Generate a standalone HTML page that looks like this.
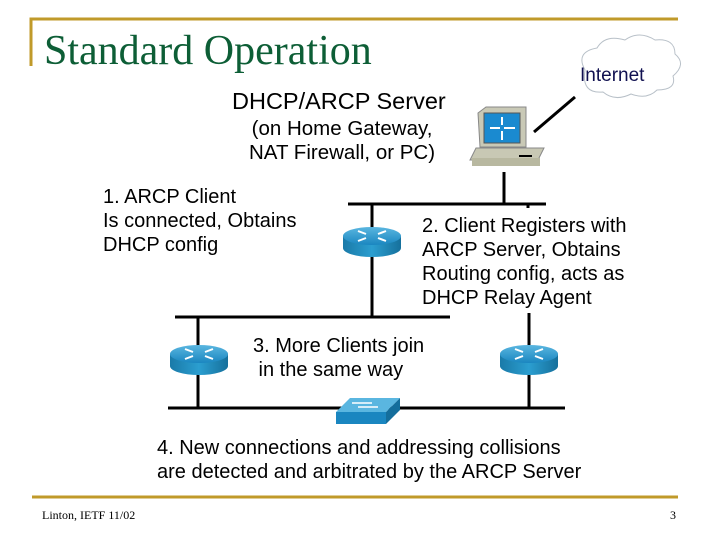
<!DOCTYPE html>
<html><head><style>
body{margin:0;width:720px;height:540px;background:#fff;overflow:hidden;position:relative;font-family:"Liberation Sans",sans-serif}
.t{position:absolute;white-space:nowrap;color:#000}
</style></head><body>
<svg width="720" height="540" style="position:absolute;left:0;top:0">
<defs>
<linearGradient id="rt" x1="0" y1="0" x2="0" y2="1"><stop offset="0" stop-color="#5ab6e0"/><stop offset="1" stop-color="#1a86c0"/></linearGradient>
<linearGradient id="rs" x1="0" y1="0" x2="1" y2="0"><stop offset="0" stop-color="#1a7aa8"/><stop offset="0.5" stop-color="#2b9ed0"/><stop offset="1" stop-color="#16709c"/></linearGradient>
<g id="router">
<path d="M-29,0 v12 a29,9 0 0 0 58,0 v-12 z" fill="url(#rs)"/>
<ellipse cx="0" cy="0" rx="29" ry="9" fill="url(#rt)"/>
<g stroke="#fff" stroke-width="2" fill="none"><path d="M-14,-5 l8,3 M14,-5 l-8,3 M-14,5 l8,-3 M14,5 l-8,-3"/></g>
</g>
</defs>
<g fill="none" stroke="#c09a2a" stroke-width="3">
<path d="M31,66 V19 H678"/>
<path d="M32,497 H678"/>
</g>
<path d="M585,70 q-10,-18 12,-22 q8,-14 28,-8 q14,-10 30,0 q20,-2 20,14 q12,10 -2,22 q4,14 -16,14 q-10,10 -26,4 q-16,8 -28,-2 q-22,2 -18,-22 z" fill="#fff" stroke="#b8c0c8" stroke-width="1"/>
<g stroke="#000" stroke-width="3" fill="none">
<line x1="575" y1="97" x2="534" y2="132"/>
<line x1="504" y1="172" x2="504" y2="204"/>
<line x1="348" y1="204" x2="546" y2="204"/>
<line x1="528" y1="204" x2="528" y2="208"/>
<line x1="372" y1="204" x2="372" y2="317"/>
<line x1="175" y1="317" x2="450" y2="317"/>
<line x1="198" y1="317" x2="198" y2="408"/>
<line x1="529" y1="313" x2="529" y2="408"/>
<line x1="168" y1="408" x2="565" y2="408"/>
</g>
<g>
<path d="M476,148 h68 l-6,12 h-68 z" fill="#c8c8b4" stroke="#888"/>
<rect x="472" y="158" width="68" height="8" fill="#b8b8a0"/>
<path d="M478,113 l8,-6 h40 v40 h-46 z" fill="#c9c9b6" stroke="#888"/>
<rect x="484" y="113" width="36" height="30" fill="#1a8ad0" stroke="#555"/>
<g stroke="#fff" stroke-width="2"><line x1="490" y1="128" x2="500" y2="128"/><line x1="504" y1="128" x2="515" y2="128"/><line x1="502" y1="117" x2="502" y2="125"/><line x1="502" y1="131" x2="502" y2="140"/></g>
<line x1="519" y1="156" x2="532" y2="156" stroke="#000" stroke-width="2"/>
</g>
<use href="#router" x="372" y="236"/>
<use href="#router" x="199" y="354"/>
<use href="#router" x="529" y="354"/>
<path d="M336,412 l14,-14 h50 l-14,14 z" fill="#5ab6e0"/>
<path d="M336,412 h50 v12 h-50 z" fill="#1a86c0"/>
<path d="M386,412 l14,-14 v12 l-14,14 z" fill="#146e9c"/>
<g stroke="#fff" stroke-width="1.5"><line x1="352" y1="403" x2="372" y2="403"/><line x1="358" y1="407" x2="378" y2="407"/></g>
</svg>
<div class="t" style="left:44px;top:27px;font-family:'Liberation Serif',serif;font-size:42px;color:#0d5e36">Standard Operation</div>
<div class="t" style="left:580px;top:65px;font-size:19px;color:#101050">Internet</div>
<div class="t" style="left:232px;top:88px;font-size:23.5px">DHCP/ARCP Server</div>
<div class="t" style="left:249px;top:117px;font-size:20.5px;line-height:24px;text-align:center">(on Home Gateway,<br>NAT Firewall, or PC)</div>
<div class="t" style="left:103px;top:185px;font-size:20px;line-height:24px">1. ARCP Client<br>Is connected, Obtains<br>DHCP config</div>
<div class="t" style="left:422px;top:214px;font-size:20px;line-height:24px">2. Client Registers with<br>ARCP Server, Obtains<br>Routing config, acts as<br>DHCP Relay Agent</div>
<div class="t" style="left:253px;top:334px;font-size:20px;line-height:24px">3. More Clients join<br>&nbsp;in the same way</div>
<div class="t" style="left:157px;top:436px;font-size:20px;line-height:24px">4. New connections and addressing collisions<br>are detected and arbitrated by the ARCP Server</div>
<div class="t" style="left:42px;top:508px;font-family:'Liberation Serif',serif;font-size:12px">Linton, IETF 11/02</div>
<div class="t" style="left:670px;top:508px;font-family:'Liberation Serif',serif;font-size:12px">3</div>
</body></html>
